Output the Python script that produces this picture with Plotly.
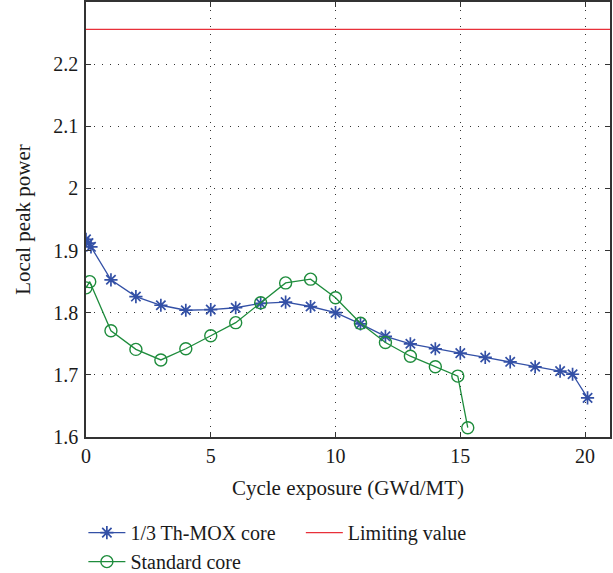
import plotly.graph_objects as go

# 1/3 Th-MOX core
thmox_x = [0, 0.1, 0.2, 1, 2, 3, 4, 5, 6, 7, 8, 9, 10, 11, 12, 13, 14, 15, 16, 17, 18, 19, 19.5, 20.1]
thmox_y = [1.918, 1.912, 1.906, 1.853, 1.826, 1.812, 1.804, 1.805, 1.808, 1.815, 1.817, 1.810,
           1.800, 1.782, 1.762, 1.750, 1.742, 1.735, 1.728, 1.721, 1.713, 1.706, 1.701, 1.663]

# Standard core
std_x = [0, 0.15, 1, 2, 3, 4, 5, 6, 7, 8, 9, 10, 11, 12, 13, 14, 14.9, 15.3]
std_y = [1.840, 1.850, 1.771, 1.741, 1.724, 1.742, 1.763, 1.784, 1.816, 1.848, 1.854, 1.824,
         1.783, 1.752, 1.730, 1.713, 1.698, 1.615]

# Limiting value
limit_x = [0, 21]
limit_y = [2.256, 2.256]

x_ticks = [0, 5, 10, 15, 20]
y_ticks = [1.6, 1.7, 1.8, 1.9, 2.0, 2.1, 2.2]

BLUE = "#3350A6"
GREEN = "#1E8C3C"
RED = "#E8303A"
FONT = "Liberation Serif"

fig = go.Figure()
fig.add_trace(go.Scatter(x=thmox_x, y=thmox_y, mode="lines+markers", name="1/3 Th-MOX core",
                         line=dict(color=BLUE, width=1.3),
                         marker=dict(symbol="asterisk-open", size=11, color=BLUE, line=dict(color=BLUE, width=1.7)),
                         legend="legend"))
fig.add_trace(go.Scatter(x=std_x, y=std_y, mode="lines+markers", name="Standard core",
                         line=dict(color=GREEN, width=1.3),
                         marker=dict(symbol="circle-open", size=12, color=GREEN, line=dict(color=GREEN, width=1.4)),
                         legend="legend"))
fig.add_trace(go.Scatter(x=limit_x, y=limit_y, mode="lines", name="Limiting value",
                         line=dict(color=RED, width=1.3), legend="legend2"))

axis_common = dict(showline=True, linecolor="#333333", linewidth=1.5, mirror="ticks",
                   ticks="inside", ticklen=5, tickcolor="#333333", tickwidth=1,
                   showgrid=True, gridcolor="#333333", griddash="1px,7px", gridwidth=1.2,
                   zeroline=False, tickfont=dict(family=FONT, size=20, color="#1a1a1a"))

fig.update_layout(
    width=613, height=573,
    margin=dict(l=86, r=3, t=2, b=136, autoexpand=False),
    plot_bgcolor="white", paper_bgcolor="white",
    font=dict(family=FONT, size=20, color="#1a1a1a"),
    xaxis=dict(range=[0, 21], tickvals=x_ticks, title=dict(text="Cycle exposure (GWd/MT)", standoff=15,
               font=dict(family=FONT, size=21)), **axis_common),
    yaxis=dict(range=[1.6, 2.3], tickvals=y_ticks, ticklabelstandoff=2,
               title=dict(text="Local peak power", standoff=17,
               font=dict(family=FONT, size=21)), **axis_common),
    legend=dict(x=-0.005, y=-0.175, xref="paper", yref="paper", xanchor="left", yanchor="top",
                orientation="v", bgcolor="rgba(0,0,0,0)", font=dict(family=FONT, size=20),
                itemwidth=37, tracegroupgap=0),
    legend2=dict(x=0.41, y=-0.175, xref="paper", yref="paper", xanchor="left", yanchor="top",
                 orientation="v", bgcolor="rgba(0,0,0,0)", font=dict(family=FONT, size=20),
                 itemwidth=37),
    showlegend=True,
)

fig.write_html("out.html")
